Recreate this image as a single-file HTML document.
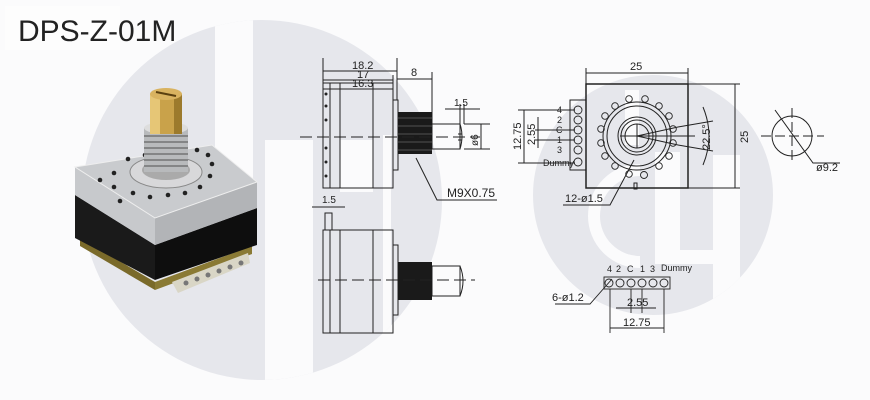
<!DOCTYPE html>
<html><head><meta charset="utf-8"><style>
html,body{margin:0;padding:0;background:#fbfbfc;}
svg{display:block;}
text{font-family:"Liberation Sans",sans-serif;fill:#222;}
</style></head><body>
<svg width="870" height="400" viewBox="0 0 870 400" xmlns="http://www.w3.org/2000/svg">
<defs>
<clipPath id="cl"><circle cx="262" cy="200" r="180"/></clipPath>
<clipPath id="cr"><circle cx="653" cy="195" r="120"/></clipPath>
</defs>
<rect width="870" height="400" fill="#fbfbfc"/>
<!-- left watermark -->
<circle cx="262" cy="200" r="180" fill="#e6e7ec"/>
<g clip-path="url(#cl)" fill="#fbfbfc">
<rect x="215" y="10" width="38" height="170"/>
<rect x="265" y="140" width="48" height="250"/>
<rect x="340" y="140" width="33" height="52"/>
<rect x="383" y="135" width="8" height="210"/>
</g>
<!-- right watermark -->
<circle cx="653" cy="195" r="120" fill="#e6e7ec"/>
<g clip-path="url(#cr)">
<path d="M640 170 A45 45 0 1 0 640 262" fill="none" stroke="#fbfbfc" stroke-width="12"/>
<rect x="655" y="152" width="25" height="112" fill="#fbfbfc"/>
<rect x="713" y="155" width="27" height="180" fill="#fbfbfc"/>
<rect x="680" y="250" width="33" height="14" fill="#fbfbfc"/>
<rect x="625" y="90" width="14" height="55" fill="#fbfbfc"/>
</g>

<!-- title -->
<rect x="5" y="6" width="115" height="44" fill="#fdfdfd"/>
<text x="18" y="41" font-size="30" fill="#111">DPS-Z-01M</text>

<!-- product photo -->
<polygon points="80,238 155,282 155,290 80,246" fill="#7a6a2a"/>
<polygon points="155,282 252,246 252,254 155,290" fill="#8a7a34"/>
<polygon points="172,282 248,253 250,263 178,293" fill="#d9d6c6"/>
<g fill="#777">
<circle cx="186" cy="283" r="2.5"/><circle cx="197" cy="279" r="2.5"/><circle cx="208" cy="275" r="2.5"/><circle cx="219" cy="271" r="2.5"/><circle cx="230" cy="267" r="2.5"/><circle cx="241" cy="263" r="2.5"/>
</g>
<polygon points="75,195 155,245 155,280 75,238" fill="#1a1a1a"/>
<polygon points="155,245 257,208 257,245 155,280" fill="#0e0e0e"/>
<polygon points="75,167 155,218 155,245 75,195" fill="#c7c9cc"/>
<polygon points="155,218 257,182 257,208 155,245" fill="#b2b4b7"/>
<polygon points="75,167 212,145 257,182 155,218" fill="#c9cbce" stroke="#eee" stroke-width="1"/>
<g fill="#222">
<circle cx="114" cy="173" r="2.3"/><circle cx="128" cy="159" r="2.3"/><circle cx="145" cy="155" r="2.3"/><circle cx="114" cy="187" r="2.3"/><circle cx="120" cy="201" r="2.3"/><circle cx="133" cy="193" r="2.3"/><circle cx="150" cy="197" r="2.3"/><circle cx="168" cy="195" r="2.3"/><circle cx="185" cy="193" r="2.3"/><circle cx="200" cy="187" r="2.3"/><circle cx="210" cy="176" r="2.3"/><circle cx="212" cy="164" r="2.3"/><circle cx="208" cy="155" r="2.3"/><circle cx="197" cy="150" r="2.3"/><circle cx="100" cy="180" r="2.3"/>
</g>
<ellipse cx="166" cy="172" rx="36" ry="16" fill="#d8d8da" stroke="#888" stroke-width="1"/>
<ellipse cx="166" cy="170" rx="24" ry="10" fill="#aaa"/>
<rect x="144" y="128" width="44" height="44" fill="#b8babc"/>
<g stroke="#666" stroke-width="1.2">
<line x1="144" y1="136" x2="188" y2="136"/><line x1="144" y1="142" x2="188" y2="142"/><line x1="144" y1="148" x2="188" y2="148"/><line x1="144" y1="154" x2="188" y2="154"/><line x1="144" y1="160" x2="188" y2="160"/><line x1="144" y1="166" x2="188" y2="166"/>
</g>
<ellipse cx="166" cy="128" rx="22" ry="6" fill="#ddd"/>
<rect x="150" y="94" width="32" height="40" fill="#c9a24a"/>
<rect x="150" y="94" width="10" height="40" fill="#e6c676"/>
<rect x="174" y="94" width="8" height="40" fill="#9c7a2c"/>
<ellipse cx="166" cy="94" rx="16" ry="6" fill="#d9b360"/>
<line x1="156" y1="92" x2="176" y2="96" stroke="#5a4010" stroke-width="2"/>

<!-- side view top -->
<g stroke="#222" stroke-width="1" fill="none">
<rect x="323" y="83" width="70" height="105"/>
<rect x="330" y="83" width="63" height="105"/>
<line x1="340" y1="83" x2="340" y2="188"/>
<line x1="373" y1="83" x2="373" y2="188"/>
<rect x="393" y="100" width="5" height="70"/>
<rect x="432" y="124" width="28" height="25"/>
<path d="M460 124 q4 12 0 25"/>
<line x1="458" y1="134" x2="462" y2="134"/><line x1="458" y1="140" x2="462" y2="140"/>
<line x1="323" y1="58" x2="323" y2="83"/><line x1="397" y1="58" x2="397" y2="100"/>
<line x1="393" y1="75" x2="393" y2="83"/><line x1="432" y1="72" x2="432" y2="124"/>
<line x1="323" y1="71" x2="397" y2="71"/><line x1="323" y1="80" x2="393" y2="80"/><line x1="323" y1="89" x2="393" y2="89"/>
<line x1="397" y1="79" x2="432" y2="79"/>
<line x1="445" y1="109" x2="480" y2="109"/><line x1="460" y1="104" x2="460" y2="124"/><line x1="464" y1="104" x2="464" y2="124"/>
<line x1="464" y1="124" x2="490" y2="124"/><line x1="464" y1="149" x2="490" y2="149"/>
<line x1="481" y1="124" x2="481" y2="149"/>
<polyline points="416,158 437,200 497,200"/>
</g>
<rect x="398" y="112" width="34" height="42" fill="#1a1a1a"/>
<g stroke="#888" stroke-width="0.6">
<line x1="398" y1="118" x2="432" y2="118"/><line x1="398" y1="126" x2="432" y2="126"/><line x1="398" y1="134" x2="432" y2="134"/><line x1="398" y1="142" x2="432" y2="142"/><line x1="398" y1="150" x2="432" y2="150"/>
</g>
<g fill="#222"><circle cx="326" cy="94" r="1.5"/><circle cx="326" cy="176" r="1.5"/><circle cx="326" cy="106" r="1.5"/><circle cx="326" cy="120" r="1.5"/><circle cx="326" cy="148" r="1.5"/><circle cx="326" cy="162" r="1.5"/></g>
<line x1="300" y1="137" x2="480" y2="137" stroke="#222" stroke-width="1" stroke-dasharray="12,5"/>
<g font-size="11">
<text x="352" y="69">18.2</text><text x="357" y="78">17</text><text x="352" y="87">16.3</text>
<text x="411" y="76">8</text><text x="454" y="106" font-size="10">1.5</text>
<text x="478" y="146" font-size="10" transform="rotate(-90 478 146)">ø6</text>
<text x="447" y="197" font-size="12">M9X0.75</text>
</g>

<!-- side view bottom -->
<g stroke="#222" stroke-width="1" fill="none">
<rect x="323" y="230" width="70" height="103"/>
<rect x="330" y="230" width="63" height="103"/>
<rect x="325" y="213" width="7" height="17"/>
<line x1="340" y1="230" x2="340" y2="333"/>
<line x1="373" y1="230" x2="373" y2="333"/>
<rect x="393" y="245" width="5" height="70"/>
<rect x="432" y="266" width="28" height="30"/>
<path d="M460 266 q6 15 0 30"/>
<line x1="312" y1="207" x2="345" y2="207"/>
</g>
<rect x="398" y="262" width="34" height="38" fill="#1a1a1a"/>
<line x1="318" y1="280" x2="475" y2="280" stroke="#222" stroke-width="1" stroke-dasharray="12,5"/>
<text x="322" y="203" font-size="10">1.5</text>

<!-- front view -->
<g stroke="#222" stroke-width="1" fill="none">
<rect x="586" y="84" width="102" height="104" stroke-width="1.5"/>
<rect x="570" y="100" width="16" height="70"/>
<line x1="586" y1="68" x2="586" y2="84"/><line x1="688" y1="68" x2="688" y2="84"/>
<line x1="586" y1="73" x2="688" y2="73"/>
<line x1="688" y1="84" x2="740" y2="84"/><line x1="688" y1="188" x2="740" y2="188"/>
<line x1="735" y1="84" x2="735" y2="188"/>
<line x1="518" y1="110" x2="575" y2="110"/><line x1="518" y1="163" x2="575" y2="163"/>
<line x1="524" y1="110" x2="524" y2="163"/>
<line x1="538" y1="117" x2="538" y2="148"/>
<line x1="535" y1="130" x2="575" y2="130"/><line x1="535" y1="140" x2="575" y2="140"/>
<circle cx="637" cy="136" r="34"/><circle cx="637" cy="136" r="30"/>
<circle cx="637" cy="136" r="19"/><circle cx="637" cy="136" r="16"/><circle cx="637" cy="136" r="12"/>
<line x1="620" y1="136" x2="660" y2="136"/><line x1="637" y1="124" x2="637" y2="148"/>
<line x1="637" y1="136" x2="678" y2="127"/><line x1="637" y1="136" x2="678" y2="145"/>
<line x1="660" y1="136" x2="695" y2="136"/>
<line x1="678" y1="127" x2="713" y2="121"/><line x1="678" y1="145" x2="713" y2="151"/>
<path d="M703 107 q12 29 0 58"/>
<polyline points="634,160 610,205 563,205"/>
<rect x="634" y="183" width="3" height="6"/>
<circle cx="792" cy="136" r="20"/>
<line x1="761" y1="136" x2="824" y2="136" stroke-dasharray="10,4"/>
<line x1="792" y1="108" x2="792" y2="163" stroke-dasharray="10,4"/>
<polyline points="775,110 813,163 840,163"/>
</g>
<g fill="none" stroke="#222" stroke-width="0.9">
<circle cx="578" cy="110" r="4"/><circle cx="578" cy="120" r="4"/><circle cx="578" cy="130" r="4"/><circle cx="578" cy="140" r="4"/><circle cx="578" cy="150" r="4"/><circle cx="578" cy="162" r="4"/>
<circle cx="629" cy="99" r="3.3"/><circle cx="645" cy="99" r="3.3"/><circle cx="659" cy="106" r="3.3"/><circle cx="669" cy="116" r="3.3"/><circle cx="673" cy="129" r="3.3"/><circle cx="673" cy="143" r="3.3"/><circle cx="669" cy="156" r="3.3"/><circle cx="659" cy="166" r="3.3"/>
<circle cx="615" cy="106" r="3.3"/><circle cx="605" cy="116" r="3.3"/><circle cx="601" cy="129" r="3.3"/><circle cx="601" cy="143" r="3.3"/><circle cx="605" cy="156" r="3.3"/><circle cx="615" cy="166" r="3.3"/><circle cx="629" cy="174" r="3.3"/>
<circle cx="644" cy="175" r="3.5"/>
</g>
<g font-size="9">
<text x="557" y="113">4</text><text x="557" y="123">2</text><text x="556" y="133">C</text><text x="557" y="143">1</text><text x="557" y="153">3</text><text x="543" y="166">Dummy</text>
</g>
<g font-size="11">
<text x="630" y="70">25</text>
<text x="748" y="143" transform="rotate(-90 748 143)">25</text>
<text x="521" y="150" transform="rotate(-90 521 150)">12.75</text>
<text x="535" y="145" transform="rotate(-90 535 145)">2.55</text>
<text x="710" y="150" transform="rotate(-90 710 150)">22.5°</text>
<text x="565" y="202">12-ø1.5</text>
<text x="816" y="171">ø9.2</text>
</g>

<!-- terminal bottom view -->
<g fill="none" stroke="#222" stroke-width="0.9">
<rect x="604" y="277" width="66" height="12"/>
<circle cx="609" cy="283" r="4"/><circle cx="620" cy="283" r="4"/><circle cx="631" cy="283" r="4"/><circle cx="642" cy="283" r="4"/><circle cx="653" cy="283" r="4"/><circle cx="664" cy="283" r="4"/>
<line x1="610" y1="289" x2="610" y2="333"/><line x1="664" y1="289" x2="664" y2="333"/>
<line x1="631" y1="289" x2="631" y2="313"/><line x1="642" y1="289" x2="642" y2="313"/>
<line x1="616" y1="308" x2="656" y2="308"/>
<line x1="610" y1="328" x2="664" y2="328"/>
<polyline points="612,279 590,304 555,304"/>
</g>
<g font-size="9"><text x="607" y="272">4</text><text x="616" y="272">2</text><text x="627" y="272">C</text><text x="640" y="272">1</text><text x="650" y="272">3</text><text x="661" y="271">Dummy</text></g>
<g font-size="11"><text x="552" y="301">6-ø1.2</text><text x="627" y="306">2.55</text><text x="623" y="326">12.75</text></g>
</svg>
</body></html>
